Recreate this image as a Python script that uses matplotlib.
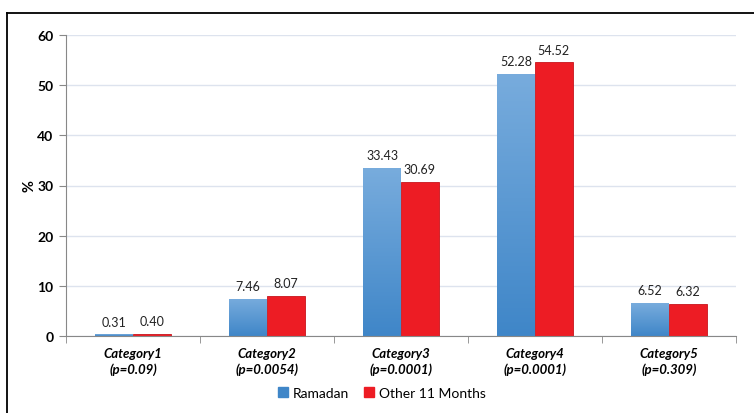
import matplotlib.pyplot as plt
import numpy as np
from matplotlib.lines import Line2D
from matplotlib.colors import LinearSegmentedColormap

plt.rcParams['font.family'] = ['Lato', 'DejaVu Sans']

categories = ["Category1\n(p=0.09)", "Category2\n(p=0.0054)", "Category3\n(p=0.0001)",
              "Category4\n(p=0.0001)", "Category5\n(p=0.309)"]
ramadan = [0.31, 7.46, 33.43, 52.28, 6.52]
other = [0.40, 8.07, 30.69, 54.52, 6.32]
series_names = ["Ramadan", "Other 11 Months"]
yticks = [0, 10, 20, 30, 40, 50, 60]

blue_top, blue_bot = "#78acdd", "#3f86c8"
red = "#ed1c24"
red_edge = "#c8141b"

fig = plt.figure(figsize=(7.54, 4.14), dpi=100)
ax = fig.add_axes([66 / 754, 1 - 337 / 414, 670 / 754, 301 / 414])

x = np.arange(len(categories))
w = 0.28
blue_bars = ax.bar(x - w / 2, ramadan, w, color=blue_bot, zorder=2)
red_bars = ax.bar(x + w / 2, other, w, color=red, edgecolor=red_edge,
                  linewidth=0.6, zorder=2)

# vertical gradient on the blue bars
cmap = LinearSegmentedColormap.from_list("b", [blue_bot, blue_top])
grad = np.linspace(0, 1, 256).reshape(-1, 1)
for b in blue_bars:
    x0, y0 = b.get_x(), b.get_y()
    ww, hh = b.get_width(), b.get_height()
    im = ax.imshow(grad, cmap=cmap, origin="lower", aspect="auto",
                   extent=(x0, x0 + ww, y0, y0 + hh), zorder=2.5)
    im.set_clip_path(b)

for bars, vals in ((blue_bars, ramadan), (red_bars, other)):
    for b, v in zip(bars, vals):
        ax.annotate(f"{v:.2f}", (b.get_x() + b.get_width() / 2, v),
                    xytext=(0, 5), textcoords="offset points",
                    ha="center", va="bottom", fontsize=9, color="#222222")

ax.set_xlim(-0.5, len(categories) - 0.5)
ax.set_ylim(0, 60)
ax.set_yticks(yticks)
ax.set_yticklabels([str(t) for t in yticks], fontsize=10, fontweight="bold")
ax.yaxis.grid(True, color="#dde3ee", linewidth=1, zorder=0)
ax.set_axisbelow(True)

ax.set_xticks(x)
ax.set_xticklabels(categories, fontsize=9.5, fontweight="bold", fontstyle="italic",
                   linespacing=1.3)
ax.tick_params(axis="x", length=0, pad=8)
ax.set_xticks(np.arange(-0.5, len(categories)), minor=True)
ax.tick_params(axis="x", which="minor", length=5, color="#888888", direction="out")
ax.tick_params(axis="y", length=5, color="#888888", pad=4)

for s in ("top", "right"):
    ax.spines[s].set_visible(False)
for s in ("left", "bottom"):
    ax.spines[s].set_color("#888888")

ax.set_ylabel("%", fontsize=10.5, fontweight="bold")
ax.yaxis.set_label_coords(-29 / 670, 0.5)

handles = [Line2D([], [], marker="s", linestyle="none", markersize=7.5,
                  markerfacecolor=blue_bot, markeredgecolor=blue_bot),
           Line2D([], [], marker="s", linestyle="none", markersize=7.5,
                  markerfacecolor=red, markeredgecolor=red)]
fig.legend(handles, series_names, loc="center", bbox_to_anchor=(381 / 754, 1 - 394 / 414),
           ncol=2, frameon=False, fontsize=10, handletextpad=0.25, columnspacing=1.0,
           handlelength=0.9)

# outer frame lines
fig.add_artist(Line2D([7 / 754, 1], [1 - 14 / 414] * 2, color="black", linewidth=1.3))
fig.add_artist(Line2D([7 / 754] * 2, [0, 1 - 14 / 414], color="black", linewidth=1.3))

fig.savefig("out.png", dpi=100)
